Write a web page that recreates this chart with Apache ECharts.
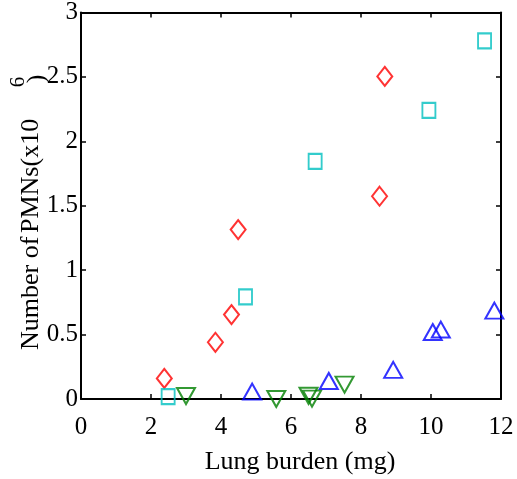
<!DOCTYPE html>
<html>
<head>
<meta charset="utf-8">
<script src="https://cdn.jsdelivr.net/npm/echarts@6/dist/echarts.min.js"></script>
<style>html,body{margin:0;padding:0;background:#fff;}#c{width:517px;height:479px;}</style>
</head>
<body>
<div id="c"></div>
<script>
// Data
var xTicks = [0, 2, 4, 6, 8, 10, 12];
var yTicks = [0, 0.5, 1, 1.5, 2, 2.5, 3];
var diamondX = [2.38, 3.84, 4.30, 4.49, 8.53, 8.68];
var diamondY = [0.16, 0.44, 0.655, 1.315, 1.574, 2.504];
var squareX = [2.49, 4.70, 6.69, 9.94, 11.53];
var squareY = [0.018, 0.793, 1.845, 2.24, 2.78];
var upTriX = [4.89, 7.08, 8.92, 10.05, 10.28, 11.81];
var upTriY = [0.057, 0.14, 0.226, 0.52, 0.539, 0.686];
var downTriX = [3.0, 5.58, 6.5, 6.6, 7.53];
var downTriY = [0.023, 0.0, 0.025, 0.003, 0.112];

function pairs(xs, ys) { return xs.map(function (x, i) { return [x, ys[i]]; }); }

var FONT = 'Liberation Serif';
var chart = echarts.init(document.getElementById('c'), null, {renderer: 'canvas'});

function axisBase(pos, showLabel, min, max, interval) {
  return {
    type: 'value', position: pos, min: min, max: max, interval: interval,
    axisLine: {show: true, onZero: false, lineStyle: {color: '#000', width: 2}},
    axisTick: {show: true, inside: true, length: 5, lineStyle: {color: '#000', width: 1.5}},
    axisLabel: {show: showLabel, color: '#000', fontFamily: FONT, fontSize: 25, showMinLabel: true, showMaxLabel: true},
    splitLine: {show: false}
  };
}

var xBottom = axisBase('bottom', true, xTicks[0], xTicks[xTicks.length - 1], 2);
xBottom.axisLabel.margin = 16;
var xTop = axisBase('top', false, xTicks[0], xTicks[xTicks.length - 1], 2);
var yLeft = axisBase('left', true, yTicks[0], yTicks[yTicks.length - 1], 0.5);
yLeft.axisLabel.margin = 3;
yLeft.axisLabel.formatter = function (v) { return String(v); };
var yRight = axisBase('right', false, yTicks[0], yTicks[yTicks.length - 1], 0.5);

function sc(name, data, symbol, size, color, rot) {
  return {
    name: name, type: 'scatter', data: data, symbol: symbol, symbolSize: size,
    symbolRotate: rot || 0, clip: false, xAxisIndex: 0, yAxisIndex: 0,
    itemStyle: {color: 'rgba(0,0,0,0)', borderColor: color, borderWidth: 2},
    emphasis: {disabled: true}
  };
}

chart.setOption({
  animation: false,
  backgroundColor: '#fff',
  grid: {left: 81, right: 16, top: 12, bottom: 80, containLabel: false},
  xAxis: [xBottom, xTop],
  yAxis: [yLeft, yRight],
  series: [
    sc('diamond', pairs(diamondX, diamondY), 'diamond', [15, 19], '#ff0000'),
    sc('square', pairs(squareX, squareY), 'rect', [13, 15], '#00bfbf'),
    sc('up', pairs(upTriX, upTriY), 'triangle', [18, 16], '#0000ff'),
    sc('down', pairs(downTriX, downTriY), 'triangle', [18, 16], '#008000', 180)
  ],
  graphic: [
    {type: 'text', x: 300, y: 462, style: {text: 'Lung burden (mg)', font: '26px "Liberation Serif"', fill: '#000', textAlign: 'center', textVerticalAlign: 'middle'}},
    {type: 'text', x: 31, y: 350, rotation: Math.PI / 2, style: {text: 'Number of', font: '26px "Liberation Serif"', fill: '#000', textAlign: 'left', textVerticalAlign: 'middle'}},
    {type: 'text', x: 31, y: 233, rotation: Math.PI / 2, style: {text: 'PMNs(x10', font: '26px "Liberation Serif"', fill: '#000', textAlign: 'left', textVerticalAlign: 'middle'}},
    {type: 'text', x: 18, y: 82, rotation: Math.PI / 2, style: {text: '6', font: '21px "Liberation Serif"', fill: '#000', textAlign: 'center', textVerticalAlign: 'middle'}},
    {type: 'text', x: 37, y: 79, rotation: Math.PI / 2, style: {text: ')', font: '26px "Liberation Serif"', fill: '#000', textAlign: 'center', textVerticalAlign: 'middle'}}
  ]
});
</script>
</body>
</html>
